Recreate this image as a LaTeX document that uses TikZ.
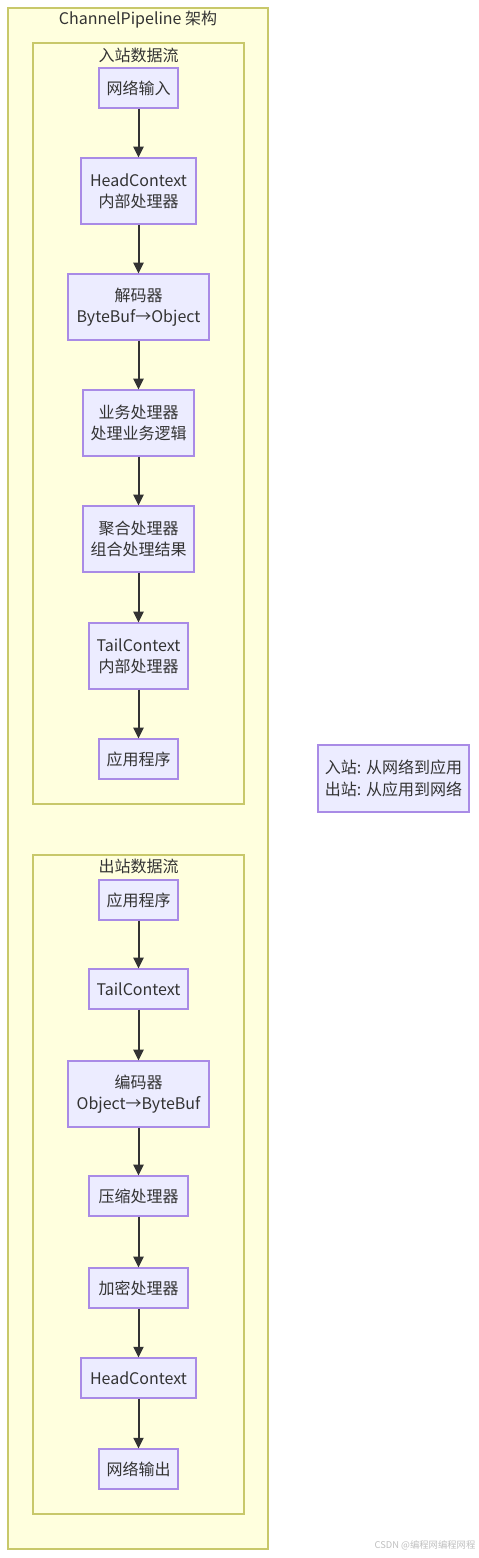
\documentclass[tikz,border=0pt]{standalone}
\usepackage{fontspec}
\setmainfont{Noto Sans CJK SC}
\usetikzlibrary{arrows.meta}
\definecolor{clfill}{HTML}{FFFFDE}
\definecolor{clline}{HTML}{C8C86A}
\definecolor{ndfill}{HTML}{ECECFF}
\definecolor{ndline}{HTML}{A98BE6}
\definecolor{txt}{HTML}{333333}
\begin{document}
\begin{tikzpicture}[x=0.75pt,y=-0.75pt,
  wh/.style 2 args={minimum width=#1*0.75pt, minimum height=#2*0.75pt},
  cluster/.style={draw=clline, fill=clfill, line width=1pt, inner sep=0pt},
  nd/.style={draw=ndline, fill=ndfill, line width=0.9pt, inner sep=0pt, align=center,
    text=txt, font=\fontsize{12pt}{16pt}\selectfont},
  ttl/.style={text=txt, font=\fontsize{12pt}{16pt}\selectfont, inner sep=0pt},
  arr/.style={draw=txt, line width=1.5pt, -{Triangle[length=8pt,width=7.5pt]}}]
\useasboundingbox (0,0) rectangle (478,1558);
\node[cluster, wh={260}{1541}] (outer) at (138,778.5) {};
\node[cluster, wh={211}{761}] (inb) at (138.5,423.5) {};
\node[cluster, wh={211}{659}] (outb) at (138.5,1184.5) {};
\node[ttl] (t0) at (138,20) {ChannelPipeline 架构};
\node[ttl] (t1) at (138.5,55) {入站数据流};
\node[ttl] (t2) at (138.5,866) {出站数据流};
% inbound
\node[nd, wh={79}{40}] (a1) at (138.5,88) {网络输入};
\node[nd, wh={115}{66}] (a2) at (138.5,191) {HeadContext\\内部处理器};
\node[nd, wh={141}{66}] (a3) at (138.5,307) {解码器\\ByteBuf→Object};
\node[nd, wh={111}{66}] (a4) at (138.5,423) {业务处理器\\处理业务逻辑};
\node[nd, wh={111}{66}] (a5) at (138.5,539) {聚合处理器\\组合处理结果};
\node[nd, wh={99}{66}] (a6) at (138.5,656) {TailContext\\内部处理器};
\node[nd, wh={79}{40}] (a7) at (138.5,759) {应用程序};
% outbound
\node[nd, wh={79}{40}] (b1) at (138.5,900) {应用程序};
\node[nd, wh={99}{40}] (b2) at (138.5,989) {TailContext};
\node[nd, wh={141}{66}] (b3) at (138.5,1094) {编码器\\Object→ByteBuf};
\node[nd, wh={99}{40}] (b4) at (138.5,1196) {压缩处理器};
\node[nd, wh={99}{40}] (b5) at (138.5,1288) {加密处理器};
\node[nd, wh={115}{40}] (b6) at (138.5,1378) {HeadContext};
\node[nd, wh={79}{40}] (b7) at (138.5,1469) {网络输出};
% legend
\node[nd, wh={151}{67}] (leg) at (393.5,778.5) {入站: 从网络到应用\\出站: 从应用到网络};
% arrows
\foreach \p/\q in {a1/a2,a2/a3,a3/a4,a4/a5,a5/a6,a6/a7,b1/b2,b2/b3,b3/b4,b4/b5,b5/b6,b6/b7}
  \draw[arr] (\p) -- (\q);
\node[text=black!25, font=\fontsize{7pt}{8pt}\selectfont, inner sep=0pt] (wm) at (425,1545) {CSDN @编程网编程网程};
\end{tikzpicture}
\end{document}
